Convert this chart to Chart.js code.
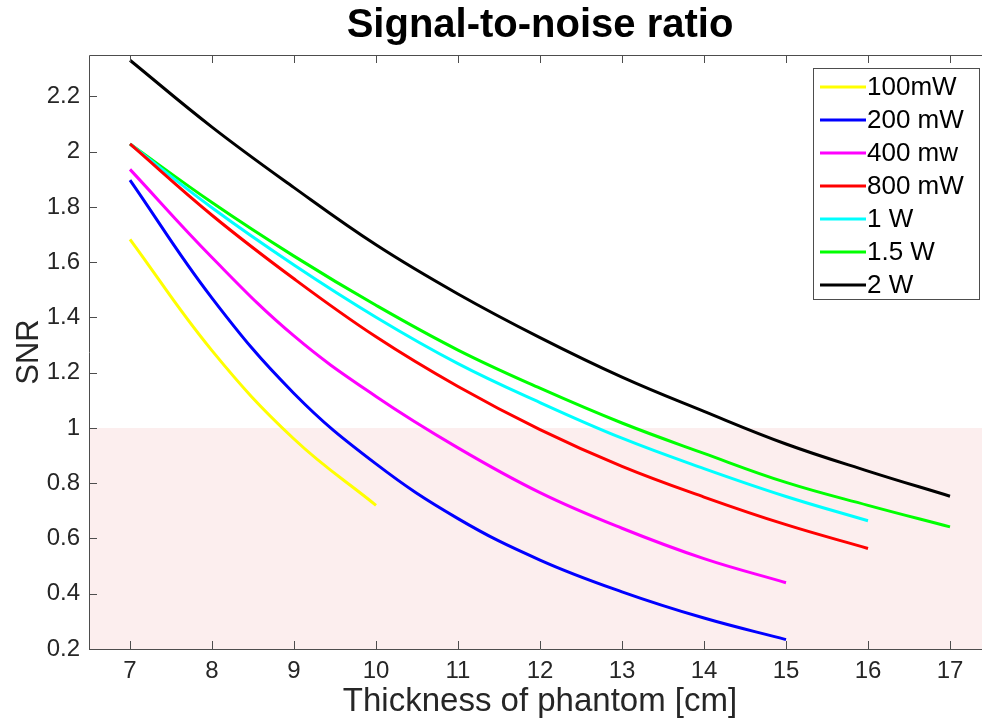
<!DOCTYPE html>
<html>
<head>
<meta charset="utf-8">
<title>Signal-to-noise ratio</title>
<script src="https://cdn.jsdelivr.net/npm/chart.js@4.4.1/dist/chart.umd.min.js"></script>
<style>
  html, body { margin: 0; padding: 0; background: #fff; overflow: hidden; }
  #wrap { width: 1000px; height: 722px; }
</style>
</head>
<body>
<div id="wrap"><canvas id="snrChart" width="1000" height="722"></canvas></div>
<script>
// Thickness of phantom [cm] (x values)
const thickness = [7, 8, 9, 10, 11, 12, 13, 14, 15, 16, 17];

// SNR per laser power
const snr100mW = [1.683, 1.28, 0.96, 0.72];
const snr200mW = [1.897, 1.47, 1.125, 0.87, 0.672, 0.522, 0.407, 0.312, 0.234];
const snr400mW = [1.936, 1.617, 1.333, 1.114, 0.928, 0.766, 0.637, 0.527, 0.44];
const snr800mW = [2.028, 1.77, 1.54, 1.33, 1.15, 0.994, 0.861, 0.75, 0.65, 0.564];
const snr1W    = [2.028, 1.797, 1.59, 1.401, 1.233, 1.092, 0.963, 0.853, 0.752, 0.664];
const snr15W   = [2.028, 1.816, 1.622, 1.444, 1.282, 1.144, 1.018, 0.908, 0.803, 0.72, 0.642];
const snr2W    = [2.331, 2.089, 1.87, 1.663, 1.485, 1.327, 1.184, 1.06, 0.942, 0.844, 0.753];

const seriesLabels = ['100mW', '200 mW', '400 mw', '800 mW', '1 W', '1.5 W', '2 W'];
const seriesValues = [snr100mW, snr200mW, snr400mW, snr800mW, snr1W, snr15W, snr2W];
const seriesColors = ['#ffff00', '#0000ff', '#ff00ff', '#ff0000', '#00ffff', '#00ff00', '#000000'];

// axis ticks and the shaded "SNR < 1" band
const xTickValues = [7, 8, 9, 10, 11, 12, 13, 14, 15, 16, 17];
const yTickValues = [0.2, 0.4, 0.6, 0.8, 1, 1.2, 1.4, 1.6, 1.8, 2, 2.2];
const shadeRange = [0.2, 1];

const FONT = '"Liberation Sans", Arial, Helvetica, sans-serif';
const AXIS_COLOR = '#4d4d4d';
const TEXT_COLOR = '#262626';

const datasets = seriesValues.map((vals, i) => ({
    label: seriesLabels[i],
    data: vals.map((v, j) => ({ x: thickness[j], y: v })),
    borderColor: seriesColors[i],
    backgroundColor: seriesColors[i],
    borderWidth: 3,
    pointRadius: 0,
    fill: false,
    tension: 0.4
}));

// pink band under SNR = 1
const shadePlugin = {
    id: 'shade',
    beforeDatasetsDraw(chart) {
        const { ctx, chartArea, scales } = chart;
        const yTop = scales.y.getPixelForValue(shadeRange[1]);
        const yBot = scales.y.getPixelForValue(shadeRange[0]);
        ctx.save();
        ctx.fillStyle = 'rgb(252, 238, 238)';
        ctx.fillRect(chartArea.left, yTop, chartArea.right - chartArea.left, yBot - yTop);
        ctx.restore();
    }
};

// MATLAB style box with inward ticks
const axesPlugin = {
    id: 'matlabAxes',
    afterDatasetsDraw(chart) {
        const { ctx, chartArea, scales } = chart;
        const { left, right, top, bottom } = chartArea;
        const tl = 8;
        ctx.save();
        ctx.strokeStyle = AXIS_COLOR;
        ctx.lineWidth = 1;
        ctx.beginPath();
        ctx.moveTo(left + 0.5, top + 0.5);
        ctx.lineTo(left + 0.5, bottom + 0.5);
        ctx.lineTo(right, bottom + 0.5);
        ctx.moveTo(left + 0.5, top + 0.5);
        ctx.lineTo(right, top + 0.5);
        xTickValues.forEach(v => {
            const px = Math.round(scales.x.getPixelForValue(v)) + 0.5;
            ctx.moveTo(px, bottom);
            ctx.lineTo(px, bottom - tl);
            ctx.moveTo(px, top);
            ctx.lineTo(px, top + tl);
        });
        yTickValues.forEach(v => {
            const py = Math.round(scales.y.getPixelForValue(v)) + 0.5;
            ctx.moveTo(left, py);
            ctx.lineTo(left + tl, py);
        });
        ctx.stroke();
        ctx.restore();
    }
};

// boxed legend in the upper right corner
const legendPlugin = {
    id: 'boxLegend',
    afterDraw(chart) {
        const { ctx, chartArea } = chart;
        const sets = chart.data.datasets;
        const w = 166, rowH = 33;
        const h = rowH * sets.length;
        const x0 = chartArea.right - 12 - w;
        const y0 = chartArea.top + 13;
        ctx.save();
        ctx.fillStyle = '#fff';
        ctx.fillRect(x0, y0, w, h);
        ctx.strokeStyle = AXIS_COLOR;
        ctx.lineWidth = 1;
        ctx.strokeRect(Math.round(x0) + 0.5, Math.round(y0) + 0.5, w, h);
        ctx.font = '26px ' + FONT;
        ctx.textBaseline = 'middle';
        ctx.textAlign = 'left';
        sets.forEach((ds, i) => {
            const cy = y0 + 19 + i * rowH;
            ctx.strokeStyle = ds.borderColor;
            ctx.lineWidth = 3;
            ctx.beginPath();
            ctx.moveTo(x0 + 7, cy);
            ctx.lineTo(x0 + 53, cy);
            ctx.stroke();
            ctx.fillStyle = '#000';
            ctx.fillText(ds.label, x0 + 54, cy + 1);
        });
        ctx.restore();
    }
};

const ctx = document.getElementById('snrChart').getContext('2d');
new Chart(ctx, {
    type: 'line',
    data: { datasets: datasets },
    plugins: [shadePlugin, axesPlugin, legendPlugin],
    options: {
        responsive: false,
        animation: false,
        layout: { padding: { left: 0, right: 9, top: 0, bottom: 0 } },
        plugins: {
            legend: { display: false },
            tooltip: { enabled: false },
            title: {
                display: true,
                fullSize: false,
                text: 'Signal-to-noise ratio',
                color: '#000',
                font: { family: FONT, size: 40, weight: 'bold' },
                padding: { top: 2, bottom: 5 }
            }
        },
        scales: {
            x: {
                type: 'linear',
                min: 6.5,
                max: 17.5,
                afterBuildTicks: s => { s.ticks = xTickValues.map(v => ({ value: v })); },
                afterFit: s => { s.height = 73; },
                grid: { display: false, drawTicks: false },
                border: { display: false },
                ticks: {
                    color: TEXT_COLOR,
                    padding: 8,
                    font: { family: FONT, size: 24 },
                    callback: v => String(v)
                },
                title: {
                    display: true,
                    text: 'Thickness of phantom [cm]',
                    color: TEXT_COLOR,
                    font: { family: FONT, size: 33 },
                    padding: { top: 0, bottom: 0 }
                }
            },
            y: {
                type: 'linear',
                min: 0.2,
                max: 2.35,
                afterBuildTicks: s => { s.ticks = yTickValues.map(v => ({ value: v })); },
                afterFit: s => { s.width = 89; },
                grid: { display: false, drawTicks: false },
                border: { display: false },
                ticks: {
                    color: TEXT_COLOR,
                    padding: 9,
                    font: { family: FONT, size: 24 },
                    callback: v => String(Number(v.toFixed(1)))
                },
                title: {
                    display: true,
                    text: 'SNR',
                    color: TEXT_COLOR,
                    font: { family: FONT, size: 31 },
                    padding: { top: 11, bottom: 0 }
                }
            }
        }
    }
});
</script>
</body>
</html>
